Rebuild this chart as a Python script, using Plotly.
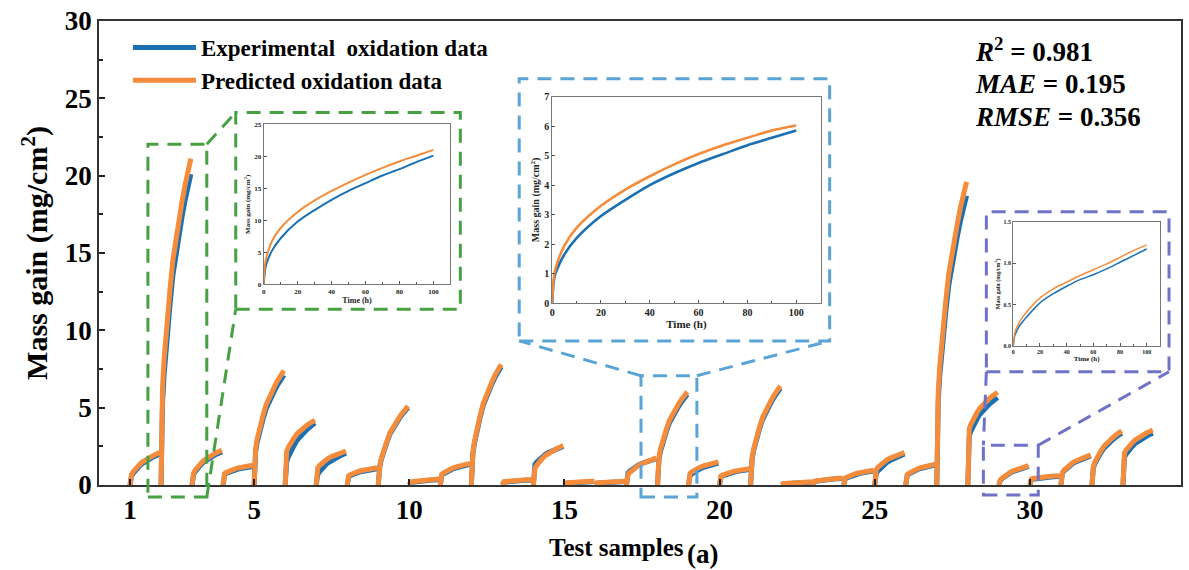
import plotly.graph_objects as go

# ---------------- data ----------------
samples = list(range(1, 34))

# mass gain (mg/cm2) right after the initial rapid rise (~1 h) and at 100 h
exp_start = [0.30, 2.5, 0.40, 0.60, 1.2, 1.0, 0.40, 0.45, 0.45, 0.12, 0.50, 0.9, 0.15, 1.10, 0.08, 0.10, 0.60,
             0.90, 0.45, 0.45, 0.8, 0.05, 0.18, 0.30, 0.50, 0.50, 3.0, 2.7, 0.12, 0.30, 0.55, 0.70, 1.5]
exp_end = [2.00, 20.1, 2.15, 1.20, 7.1, 4.0, 2.05, 1.05, 5.00, 0.34, 1.33, 7.65, 0.32, 2.50, 0.22, 0.22, 1.70,
           5.85, 1.42, 1.00, 6.25, 0.18, 0.42, 0.90, 2.00, 1.30, 18.7, 5.65, 1.20, 0.55, 1.88, 3.35, 3.35]
pred_start = [0.40, 3.5, 0.50, 0.65, 1.4, 1.8, 0.90, 0.50, 0.50, 0.15, 0.55, 1.0, 0.18, 0.80, 0.10, 0.12, 0.45,
              1.05, 0.60, 0.50, 0.9, 0.06, 0.20, 0.35, 0.80, 0.55, 3.5, 3.2, 0.15, 0.35, 0.60, 0.80, 1.8]
pred_end = [2.10, 21.1, 2.25, 1.28, 7.4, 4.2, 2.20, 1.12, 5.10, 0.38, 1.40, 7.80, 0.35, 2.55, 0.25, 0.25, 1.75,
            6.02, 1.50, 1.05, 6.40, 0.20, 0.45, 0.95, 2.10, 1.35, 19.6, 6.00, 1.25, 0.60, 1.95, 3.50, 3.55]

# share of the (end - start) gain reached at each time
growth_time = [1, 2, 5, 10, 20, 30, 40, 50, 60, 70, 80, 90, 100]
growth_fraction = [0.0, 0.05, 0.16, 0.26, 0.41, 0.52, 0.63, 0.71, 0.78, 0.84, 0.90, 0.95, 1.0]

# enlarged curves (insets)
inset_time = [0, 0.5, 1, 2, 5, 10, 20, 30, 40, 50, 60, 70, 80, 90, 100]
green_exp = [0, 1.5, 2.5, 3.5, 5.3, 7.2, 9.8, 11.6, 13.2, 14.6, 15.8, 17.0, 18.0, 19.1, 20.1]
green_pred = [0, 2.4, 3.5, 4.6, 6.8, 8.8, 11.3, 13.1, 14.6, 15.9, 17.1, 18.2, 19.2, 20.1, 21.0]
blue_exp = [0, 0.6, 0.9, 1.15, 1.65, 2.2, 2.95, 3.5, 4.0, 4.4, 4.75, 5.05, 5.35, 5.6, 5.85]
blue_pred = [0, 0.75, 1.05, 1.35, 1.95, 2.55, 3.3, 3.85, 4.3, 4.7, 5.05, 5.35, 5.6, 5.85, 6.02]
purple_exp = [0, 0.08, 0.12, 0.16, 0.25, 0.35, 0.52, 0.63, 0.72, 0.80, 0.86, 0.93, 1.01, 1.09, 1.17]
purple_pred = [0, 0.10, 0.15, 0.20, 0.30, 0.41, 0.58, 0.69, 0.77, 0.85, 0.92, 0.99, 1.07, 1.15, 1.22]

x_ticks = [1, 5, 10, 15, 20, 25, 30]
stats_text = ["<i>R</i><sup>2</sup> = 0.981", "<i>MAE</i> = 0.195", "<i>RMSE</i> = 0.356"]

# ---------------- layout constants ----------------
W, H = 1189, 570
L, R, T, B = 99, 1183, 18, 485
SPAN = 0.96
BLUE = "#1b70b3"
ORANGE = "#f58c3b"
FONT = "Liberation Serif"


def fx(p):
    return (p - L) / (R - L)


def fy(p):
    return (B - p) / (B - T)


def build(starts, ends):
    xs, ys = [], []
    for k, s, e in zip(samples, starts, ends):
        xs.append(k)
        ys.append(0)
        for t, f in zip(growth_time, growth_fraction):
            xs.append(k + SPAN * t / 100.0)
            ys.append(s + (e - s) * f)
        xs.append(None)
        ys.append(None)
    return xs, ys


fig = go.Figure()
ex, ey = build(exp_start, exp_end)
px_, py_ = build(pred_start, pred_end)
fig.add_trace(go.Scatter(x=ex, y=ey, mode="lines", name="Experimental  oxidation data",
                         line=dict(color=BLUE, width=5), connectgaps=False))
fig.add_trace(go.Scatter(x=px_, y=py_, mode="lines", name="Predicted oxidation data",
                         line=dict(color=ORANGE, width=5), connectgaps=False))

# insets
insets = [
    ("2", (264, 451, 122, 283), green_exp, green_pred, [0, 25], 5, 2, 7),
    ("3", (553, 822, 94, 302), blue_exp, blue_pred, [0, 7], 1, 2.6, 10),
    ("4", (1015, 1162, 220, 345), purple_exp, purple_pred, [0, 1.5], 0.5, 1.5, 6),
]
for idx, (n, (x0, x1, y0, y1), ye, yp, yr, dt, lw, fs) in enumerate(insets):
    fig.add_trace(go.Scatter(x=inset_time, y=ye, mode="lines",
                             line=dict(color=BLUE, width=lw, shape="spline", smoothing=0.8),
                             xaxis="x" + n, yaxis="y" + n, showlegend=False))
    fig.add_trace(go.Scatter(x=inset_time, y=yp, mode="lines",
                             line=dict(color=ORANGE, width=lw, shape="spline", smoothing=0.8),
                             xaxis="x" + n, yaxis="y" + n, showlegend=False))
    common = dict(showline=True, mirror=True, linecolor="#777", linewidth=1, ticks="inside",
                  ticklen=3, tickcolor="#555", showgrid=False, zeroline=False,
                  tickfont=dict(family=FONT, size=fs, color="#222", weight="bold"))
    fig.layout["xaxis" + n] = dict(domain=[fx(x0), fx(x1)], anchor="y" + n, range=[0, 110], dtick=20,
                                   title=dict(text="Time (h)", standoff=2,
                                              font=dict(family=FONT, size=fs + 1, color="#222", weight="bold")),
                                   minor=dict(ticks="inside", ticklen=2, dtick=10, tickcolor="#555"), **common)
    fig.layout["yaxis" + n] = dict(domain=[fy(y1), fy(y0)], anchor="x" + n, range=yr, dtick=dt,
                                   title=dict(text="Mass gain (mg/cm<sup>2</sup>)", standoff=2,
                                              font=dict(family=FONT, size=fs, color="#222", weight="bold")),
                                   tickformat=".1f" if n == "4" else "d", **common)

fig.update_layout(
    width=W, height=H,
    margin=dict(l=L, r=W - R, t=T, b=H - B),
    paper_bgcolor="white", plot_bgcolor="white",
    font=dict(family=FONT, color="black"),
    xaxis=dict(range=[0, 34.87], tickvals=x_ticks, ticks="inside", ticklen=6, tickwidth=1.5, tickcolor="#222",
               showline=True, mirror=True, linecolor="#333", linewidth=1.5, showgrid=False, zeroline=False,
               tickfont=dict(family=FONT, size=27, color="black", weight="bold")),
    yaxis=dict(range=[0, 30], dtick=5, ticks="inside", ticklen=6, tickwidth=1.5, tickcolor="#222",
               minor=dict(ticks="inside", ticklen=4, dtick=2.5, tickcolor="#222"),
               showline=True, mirror=True, linecolor="#333", linewidth=1.5, showgrid=False, zeroline=False,
               tickfont=dict(family=FONT, size=27, color="black", weight="bold"),
               title=dict(text="Mass gain (mg/cm<sup>2</sup>)", standoff=8,
                          font=dict(family=FONT, size=30, color="black", weight="bold"))),
    legend=dict(x=fx(128), y=fy(23), xanchor="left", yanchor="top", bgcolor="rgba(0,0,0,0)",
                itemwidth=63,
                font=dict(family=FONT, size=23, color="black", weight="bold"), tracegroupgap=0),
)

# x title and "(a)"
fig.add_annotation(text="<b>Test samples</b>", x=fx(617), y=fy(548), xref="paper", yref="paper",
                   xanchor="center", yanchor="middle",
                   showarrow=False, font=dict(family=FONT, size=25, color="black"))
fig.add_annotation(text="<b>(a)</b>", x=fx(704), y=fy(554), xref="paper", yref="paper",
                   xanchor="center", yanchor="middle",
                   showarrow=False, font=dict(family=FONT, size=27, color="black"))

# statistics
for i, s in enumerate(stats_text):
    fig.add_annotation(text="<b>" + s + "</b>", x=fx(975), y=fy(47 + 34 * i), xref="paper", yref="paper",
                       xanchor="left", yanchor="middle", showarrow=False,
                       font=dict(family=FONT, size=27, color="black"))

# dashed zoom boxes and connectors
def rect(x0, y0, x1, y1, c):
    fig.add_shape(type="rect", xref="paper", yref="paper", x0=fx(x0), x1=fx(x1), y0=fy(y1), y1=fy(y0),
                  line=dict(color=c, width=3, dash="14px,9px"))


def seg(x0, y0, x1, y1, c):
    fig.add_shape(type="line", xref="paper", yref="paper", x0=fx(x0), x1=fx(x1), y0=fy(y0), y1=fy(y1),
                  line=dict(color=c, width=3, dash="14px,9px"))


GREEN = "#47a143"
LBLUE = "#5ba4d6"
PURPLE = "#6e72c8"
rect(148, 142, 207, 497, GREEN)
rect(236, 110, 461, 308, GREEN)
seg(207, 142, 236, 110, GREEN)
seg(207, 497, 236, 308, GREEN)

rect(642, 375, 698, 497, LBLUE)
rect(520, 76, 831, 340, LBLUE)
seg(642, 375, 520, 340, LBLUE)
seg(698, 375, 831, 340, LBLUE)

rect(985, 445, 1040, 495, PURPLE)
rect(988, 210, 1171, 371, PURPLE)
seg(988, 371, 985, 445, PURPLE)
seg(1040, 445, 1171, 371, PURPLE)

fig.write_html("out.html")
